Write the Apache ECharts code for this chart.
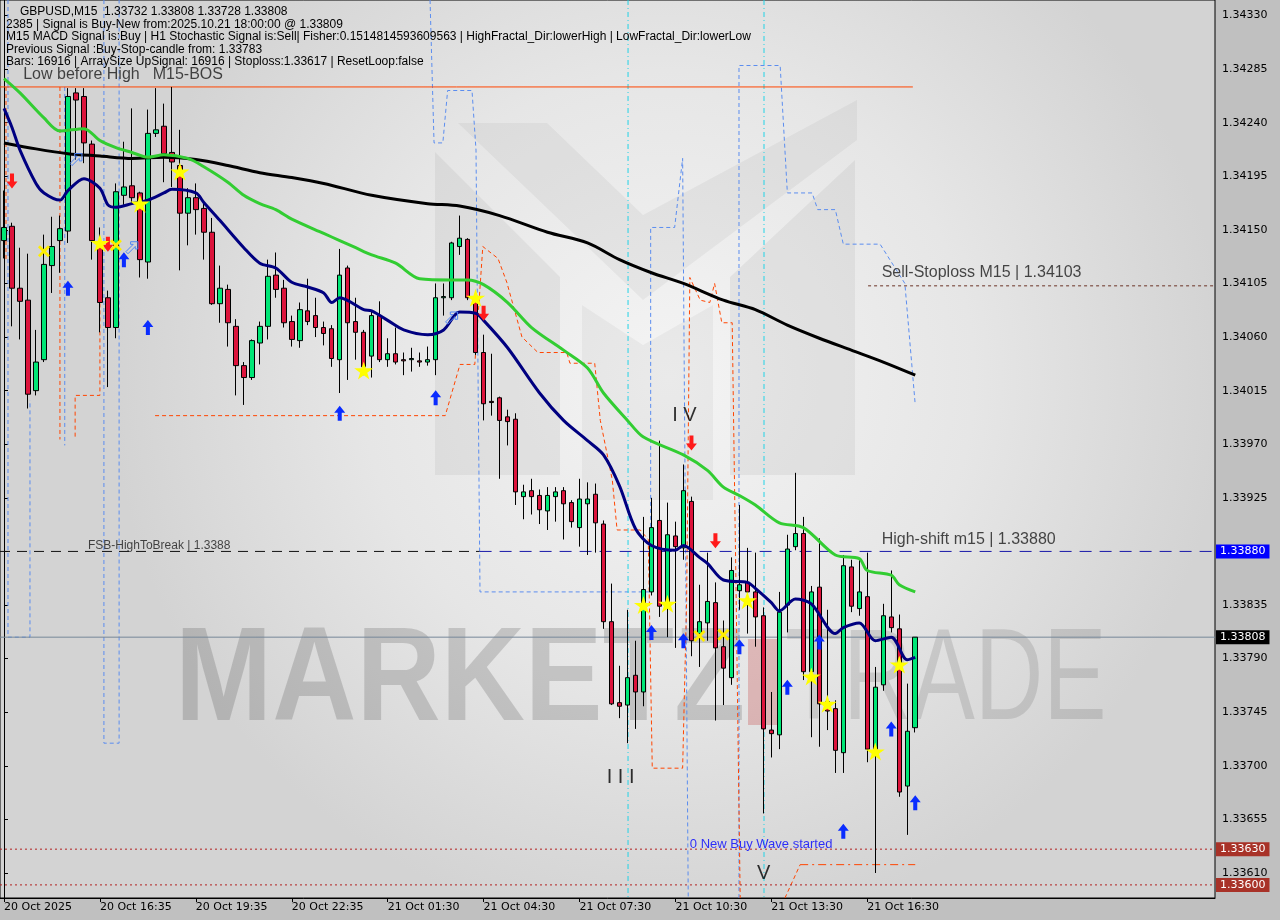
<!DOCTYPE html>
<html>
<head>
<meta charset="utf-8">
<script src="https://cdn.jsdelivr.net/npm/echarts@6/dist/echarts.min.js"></script>
<style>
html,body{margin:0;padding:0;background:#c0c0c0;}
#chart{width:1280px;height:920px;}
</style>
</head>
<body>
<div id="chart"></div>
<script>
// ================= DATA =================
const slotCount = 152;                       // visible bar slots (incl. empty right margin)
const timeTickBars = [0, 12, 24, 36, 48, 60, 72, 84, 96, 108];
const timeTickLabels = ['20 Oct 2025', '20 Oct 16:35', '20 Oct 19:35', '20 Oct 22:35', '21 Oct 01:30',
  '21 Oct 04:30', '21 Oct 07:30', '21 Oct 10:30', '21 Oct 13:30', '21 Oct 16:30'];
const priceTicks = [1.34330, 1.34285, 1.34240, 1.34195, 1.34150, 1.34105, 1.34060, 1.34015, 1.33970,
  1.33925, 1.33880, 1.33835, 1.33790, 1.33745, 1.33700, 1.33655, 1.33610];
const priceMin = 1.33589, priceMax = 1.34343;

// candles: [open, close, low, high]
const candles = [
 [1.34141,1.34152,1.34126,1.34183],[1.34153,1.34101,1.34069,1.34156],[1.34101,1.34090,1.34058,1.34135],
 [1.34091,1.34012,1.34000,1.34130],[1.34015,1.34039,1.34011,1.34066],[1.34041,1.34121,1.34039,1.34146],
 [1.34120,1.34136,1.34097,1.34161],[1.34141,1.34151,1.34114,1.34162],[1.34149,1.34262,1.34139,1.34269],
 [1.34265,1.34259,1.34209,1.34269],[1.34262,1.34223,1.34206,1.34269],[1.34222,1.34141,1.34125,1.34225],
 [1.34140,1.34089,1.34064,1.34152],[1.34093,1.34068,1.34018,1.34099],[1.34068,1.34182,1.34059,1.34189],
 [1.34179,1.34186,1.34171,1.34224],[1.34187,1.34177,1.34171,1.34252],[1.34181,1.34125,1.34110,1.34182],
 [1.34123,1.34231,1.34109,1.34251],[1.34231,1.34234,1.34228,1.34269],[1.34237,1.34214,1.34190,1.34256],
 [1.34215,1.34207,1.34186,1.34270],[1.34204,1.34164,1.34116,1.34234],[1.34164,1.34177,1.34137,1.34185],
 [1.34177,1.34167,1.34146,1.34189],[1.34168,1.34148,1.34125,1.34172],[1.34148,1.34088,1.34087,1.34160],
 [1.34088,1.34101,1.34072,1.34120],[1.34100,1.34072,1.34052,1.34104],[1.34069,1.34036,1.34011,1.34075],
 [1.34036,1.34026,1.34003,1.34039],[1.34026,1.34057,1.34024,1.34058],[1.34055,1.34069,1.34037,1.34073],
 [1.34069,1.34111,1.34058,1.34125],[1.34112,1.34100,1.34093,1.34131],[1.34101,1.34072,1.34068,1.34108],
 [1.34073,1.34058,1.34052,1.34078],[1.34057,1.34083,1.34051,1.34089],[1.34082,1.34073,1.34070,1.34109],
 [1.34078,1.34068,1.34060,1.34093],[1.34068,1.34063,1.34053,1.34073],[1.34067,1.34042,1.34035,1.34070],
 [1.34041,1.34112,1.34013,1.34134],[1.34118,1.34072,1.34024,1.34120],[1.34073,1.34064,1.34041,1.34093],
 [1.34064,1.34035,1.34028,1.34066],[1.34044,1.34078,1.34026,1.34081],[1.34078,1.34041,1.34039,1.34090],
 [1.34041,1.34046,1.34035,1.34059],[1.34046,1.34039,1.34037,1.34068],[1.34041,1.34040,1.34028,1.34047],
 [1.34041,1.34042,1.34031,1.34051],[1.34040,1.34039,1.34035,1.34047],[1.34039,1.34041,1.34036,1.34052],
 [1.34041,1.34093,1.34028,1.34105],[1.34093,1.34094,1.34078,1.34105],[1.34093,1.34139,1.34091,1.34140],
 [1.34136,1.34143,1.34129,1.34162],[1.34142,1.34093,1.34091,1.34143],[1.34093,1.34047,1.34045,1.34093],
 [1.34047,1.34004,1.33990,1.34062],[1.34006,1.34005,1.33994,1.34046],[1.34009,1.33990,1.33941,1.34010],
 [1.33993,1.33989,1.33969,1.33999],[1.33991,1.33930,1.33919,1.33996],[1.33926,1.33930,1.33907,1.33936],
 [1.33931,1.33926,1.33911,1.33941],[1.33927,1.33915,1.33903,1.33932],[1.33914,1.33927,1.33898,1.33934],
 [1.33926,1.33930,1.33905,1.33934],[1.33931,1.33920,1.33890,1.33934],[1.33921,1.33905,1.33900,1.33923],
 [1.33900,1.33924,1.33884,1.33941],[1.33920,1.33924,1.33877,1.33938],[1.33928,1.33904,1.33879,1.33937],
 [1.33903,1.33821,1.33815,1.33906],[1.33821,1.33752,1.33751,1.33853],[1.33753,1.33750,1.33740,1.33784],
 [1.33751,1.33774,1.33719,1.33831],[1.33776,1.33762,1.33731,1.33805],[1.33762,1.33848,1.33750,1.33909],
 [1.33846,1.33900,1.33843,1.33925],[1.33906,1.33834,1.33825,1.33973],[1.33837,1.33894,1.33808,1.33921],
 [1.33893,1.33884,1.33799,1.33905],[1.33883,1.33931,1.33873,1.33953],[1.33922,1.33805,1.33792,1.33926],
 [1.33811,1.33821,1.33783,1.33852],[1.33820,1.33838,1.33805,1.33879],[1.33837,1.33799,1.33738,1.33854],
 [1.33800,1.33782,1.33751,1.33822],[1.33774,1.33864,1.33768,1.33875],[1.33847,1.33852,1.33831,1.33919],
 [1.33854,1.33846,1.33811,1.33883],[1.33846,1.33825,1.33800,1.33879],[1.33826,1.33731,1.33660,1.33833],
 [1.33730,1.33727,1.33707,1.33762],[1.33726,1.33829,1.33714,1.33846],[1.33835,1.33882,1.33812,1.33894],
 [1.33884,1.33895,1.33881,1.33946],[1.33895,1.33779,1.33772,1.33909],[1.33779,1.33846,1.33724,1.33851],
 [1.33850,1.33752,1.33716,1.33891],[1.33754,1.33746,1.33730,1.33831],[1.33748,1.33713,1.33694,1.33755],
 [1.33711,1.33868,1.33694,1.33877],[1.33867,1.33834,1.33829,1.33873],[1.33832,1.33846,1.33826,1.33873],
 [1.33842,1.33714,1.33703,1.33879],[1.33714,1.33766,1.33610,1.33783],[1.33768,1.33826,1.33763,1.33836],
 [1.33825,1.33816,1.33812,1.33864],[1.33815,1.33678,1.33674,1.33827],[1.33683,1.33729,1.33642,1.33769],
 [1.33732,1.33808,1.33728,1.33808]
];

// moving averages: [bar, price]
const maSlow = [[0,1.34223],[4,1.34218],[8,1.34214],[12,1.34212],[16,1.34210],[20,1.34211],[24,1.34209],
 [28,1.34204],[32,1.34198],[36,1.34194],[40,1.34189],[46,1.34179],[53,1.34172],[57,1.34170],[62,1.34162],
 [68,1.34148],[73,1.34139],[77,1.34125],[81,1.34114],[85,1.34105],[90,1.34091],[94,1.34083],[98,1.34070],
 [102,1.34059],[106,1.34049],[110,1.34039],[114,1.34028]];
const maMid = [[0,1.34277],[2,1.34265],[5,1.34244],[7,1.34233],[10,1.34235],[12,1.34225],[14,1.34219],
 [16,1.34215],[18,1.34211],[20,1.34213],[23,1.34210],[25,1.34203],[28,1.34190],[30,1.34179],[32,1.34172],
 [34,1.34167],[36,1.34159],[40,1.34147],[42,1.34141],[44,1.34135],[46,1.34129],[49,1.34122],[52,1.34109],
 [56,1.34108],[58,1.34108],[60,1.34104],[63,1.34089],[66,1.34068],[70,1.34049],[73,1.34034],[75,1.34013],
 [78,1.33990],[80,1.33976],[85,1.33961],[88,1.33948],[90,1.33934],[92,1.33927],[94,1.33919],[97,1.33904],
 [100,1.33900],[104,1.33877],[107,1.33874],[108,1.33864],[111,1.33860],[112,1.33852],[114,1.33846]];
const maFast = [[0,1.34252],[1,1.34236],[2,1.34217],[4,1.34189],[5,1.34181],[7,1.34175],[8,1.34183],
 [10,1.34193],[12,1.34185],[13,1.34171],[14,1.34169],[16,1.34172],[18,1.34175],[20,1.34181],[21,1.34184],
 [24,1.34181],[25,1.34173],[27,1.34158],[30,1.34135],[32,1.34122],[34,1.34118],[36,1.34106],[38,1.34102],
 [40,1.34097],[41,1.34089],[42,1.34093],[45,1.34083],[46,1.34082],[48,1.34074],[50,1.34066],[53,1.34062],
 [55,1.34066],[57,1.34081],[59,1.34080],[60,1.34074],[63,1.34051],[67,1.34013],[70,1.33990],[73,1.33973],
 [75,1.33961],[77,1.33935],[79,1.33899],[81,1.33885],[84,1.33881],[85,1.33885],[87,1.33875],[88,1.33870],
 [90,1.33856],[93,1.33854],[94,1.33849],[96,1.33837],[97,1.33830],[99,1.33840],[101,1.33836],[104,1.33811],
 [105,1.33816],[107,1.33820],[109,1.33805],[111,1.33808],[113,1.33789],[114,1.33791]];

// indicator step lines: [bar, price]
const blueSteps = [
 [[0.5,1.34343],[0.5,1.33808],[3.25,1.33808],[3.25,1.34007]],
 [[7.6,1.34270],[7.6,1.33969]],
 [[12.5,1.34343],[12.5,1.33719],[14.4,1.33719],[14.4,1.34343]],
 [[53.3,1.34343],[53.8,1.34223],[54.9,1.34223],[55.5,1.34267],[58.55,1.34267],[59.05,1.34217],[59.55,1.33846],
  [80.9,1.33846],[80.9,1.34152],[83.9,1.34152],[84.9,1.34210],[85.6,1.33589]],
 [[91.95,1.33589],[91.95,1.34288],[97.1,1.34288],[98.0,1.34181],[101.1,1.34181],[101.8,1.34167],[104.0,1.34167],
  [105.0,1.34138],[109.6,1.34138],[112.7,1.34105],[114.0,1.34003]]
];
const cyanBars = [78.07, 95.08];
const orangeSteps = [
 [[0.25,1.34270],[0.25,1.34125]],
 [[7.0,1.34270],[7.0,1.33974]],
 [[12.0,1.34100],[12.0,1.34011],[8.9,1.34011],[8.9,1.33974]],
 [[18.9,1.33994],[55.2,1.33994],[57.05,1.34037],[58.9,1.34037],[59.9,1.34136],[61.8,1.34126],[62.9,1.34106],
  [64.8,1.34060],[66.8,1.34047],[70.4,1.34047],[70.8,1.34038],[73.9,1.34038],[74.6,1.33990],[76.1,1.33940],
  [76.7,1.33898],[79.6,1.33898],[80.6,1.33890],[81.1,1.33698],[84.9,1.33698],[85.4,1.33839],[85.8,1.34110],
  [87.1,1.34091],[88.3,1.34089],[88.9,1.34105],[89.8,1.34072],[91.1,1.34072],[91.6,1.33839],[92.1,1.33589]],
 [[97.7,1.33589],[99.6,1.33617]]
];
const stoplossSeg = [[99.6,1.33617],[114,1.33617]];
const sellStopSeg = [[108.1,1.34103],[151.5,1.34103]];
const bosSeg = [[-0.5,1.34270],[113.7,1.34270]];
const fsbSeg = [[-0.5,1.33880],[59.5,1.33880]];
const highShiftSeg = [[59.5,1.33880],[151.5,1.33880]];

// levels with price tags
const levelPrices = [1.33880, 1.33808, 1.33630, 1.33600];

// signal markers
const buyArrowBars = [8,15,18,42,54,81,85,92,98,102,105,111,114];
const buyArrowPrices = [1.34101,1.34125,1.34068,1.33996,1.34009,1.33812,1.33805,1.33800,1.33766,1.33804,1.33645,1.33731,1.33669];
const sellArrowBars = [1,13,60,86,89];
const sellArrowPrices = [1.34191,1.34138,1.34080,1.33971,1.33889];
const starBars = [12,17,22,45,59,80,83,93,101,103,109,112];
const starPrices = [1.34139,1.34172,1.34199,1.34032,1.34093,1.33835,1.33836,1.33839,1.33775,1.33752,1.33712,1.33785];
const crossBars = [5,14,87,90];
const crossPrices = [1.34132,1.34137,1.33809,1.33810];
const hollowBars = [9,16,56];
const hollowPrices = [1.34209,1.34135,1.34076];

// text annotations
const noteTexts = ['Low before High','M15-BOS','Sell-Stoploss M15 | 1.34103','High-shift m15 | 1.33880',
  'FSB-HighToBreak | 1.3388','0 New Buy Wave started','I V','I I I','V'];
const noteBars = [2.4,18.6,109.8,109.8,10.5,85.8,83.6,75.4,94.2];
const notePrices = [1.34280,1.34280,1.34114,1.33890,1.33885,1.33634,1.33994,1.33690,1.33610];

const headerLines = [
 'GBPUSD,M15  1.33732 1.33808 1.33728 1.33808',
 '2385 | Signal is Buy-New from:2025.10.21 18:00:00 @ 1.33809',
 'M15 MACD Signal is:Buy | H1 Stochastic Signal is:Sell| Fisher:0.1514814593609563 | HighFractal_Dir:lowerHigh | LowFractal_Dir:lowerLow',
 'Previous Signal :Buy-Stop-candle from: 1.33783',
 'Bars: 16916 | ArraySize UpSignal: 16916 | Stoploss:1.33617 | ResetLoop:false'
];

// ================= CHART =================
const tickSet = new Set(timeTickBars);
const categories = [];
for (let i = 0; i < slotCount; i++) {
  const k = timeTickBars.indexOf(i);
  categories.push(k >= 0 ? timeTickLabels[k] : String(i));
}
const zip = (a, b) => a.map((v, i) => [v, b[i]]);

const ARROW_UP = 'path://M6,0 L12,7 L8.2,7 L8.2,15 L3.8,15 L3.8,7 L0,7 Z';
const ARROW_DN = 'path://M3.8,0 L8.2,0 L8.2,8 L12,8 L6,15 L0,8 L3.8,8 Z';
const STAR = 'path://M50,0 L61,35 L98,35 L68,57 L79,91 L50,70 L21,91 L32,57 L2,35 L39,35 Z';
const CROSS = 'path://M0,2 L2,0 L6,4 L10,0 L12,2 L8,6 L12,10 L10,12 L6,8 L2,12 L0,10 L4,6 Z';
const HOLLOW = 'path://M0,10 L7,3 L4.5,3 L4.5,0.5 L11.5,0.5 L11.5,7.5 L9,7.5 L9,5 L2,12 Z';

const series = [];
// background indicator lines
blueSteps.forEach(seg => series.push({type:'line', xAxisIndex:1, data:seg, symbol:'none', silent:true, z:1,
  lineStyle:{color:'#5b8def', width:1, type:[4,3]}}));
cyanBars.forEach(b => series.push({type:'line', xAxisIndex:1, data:[[b,priceMax],[b,priceMin]], symbol:'none', z:1,
  lineStyle:{color:'#22d3e6', width:1, type:[5,3,1,3]}}));
orangeSteps.forEach(seg => series.push({type:'line', xAxisIndex:1, data:seg, symbol:'none', z:1,
  lineStyle:{color:'#ff4500', width:1, type:[4,3]}}));
series.push({type:'line', xAxisIndex:1, data:stoplossSeg, symbol:'none', z:1, lineStyle:{color:'#ff4500', width:1, type:[8,4,2,4]}});
series.push({type:'line', xAxisIndex:1, data:sellStopSeg, symbol:'none', z:1, lineStyle:{color:'#6b3326', width:1, type:[3,3]}});
series.push({type:'line', xAxisIndex:1, data:bosSeg, symbol:'none', z:1, lineStyle:{color:'#ff4500', width:1}});
series.push({type:'line', xAxisIndex:1, data:fsbSeg, symbol:'none', z:1, lineStyle:{color:'#111', width:1, type:[10,7]}});
series.push({type:'line', xAxisIndex:1, data:highShiftSeg, symbol:'none', z:1, lineStyle:{color:'#1818a8', width:1, type:[12,8]}});

// horizontal levels with price tags (own carrier series on the value x axis)
const tagStyle = (bg, txt) => ({show:true, position:'end', distance:1, color:'#fff', backgroundColor:bg,
  padding:[2,4,1,4], fontSize:11, fontFamily:'DejaVu Sans', formatter:txt});
const levelColors = ['rgba(0,0,0,0)', '#778899', '#b22222', '#b22222'];
const levelTypes = ['solid', 'solid', [2,3], [2,3]];
const tagColors = ['#0000ff', '#000000', '#a83228', '#a83228'];
levelPrices.forEach((p, k) => series.push({
  type:'line', xAxisIndex:1, symbol:'none', z:2, silent:true,
  data:[[-0.5, p], [151.5, p]],
  lineStyle:{color:levelColors[k], width:1, type:levelTypes[k]},
  endLabel:tagStyle(tagColors[k], p.toFixed(5))
}));

// candles
series.push({
  type:'candlestick', xAxisIndex:0, yAxisIndex:0, data:candles, barWidth:5, z:5,
  itemStyle:{color:'#00e676', color0:'#dc143c', borderColor:'#000', borderColor0:'#000', borderWidth:1}
});
// moving averages
series.push({type:'line', xAxisIndex:1, data:maSlow, symbol:'none', smooth:0.3, z:6, lineStyle:{color:'#000000', width:3}});
series.push({type:'line', xAxisIndex:1, data:maMid, symbol:'none', smooth:0.3, z:6, lineStyle:{color:'#32cd32', width:3}});
series.push({type:'line', xAxisIndex:1, data:maFast, symbol:'none', smooth:0.3, z:6, lineStyle:{color:'#000080', width:3}});
// markers
series.push({type:'scatter', xAxisIndex:1, data:zip(buyArrowBars, buyArrowPrices), symbol:ARROW_UP, symbolSize:[11,15], z:8,
  itemStyle:{color:'#0a2cff', opacity:1}});
series.push({type:'scatter', xAxisIndex:1, data:zip(sellArrowBars, sellArrowPrices), symbol:ARROW_DN, symbolSize:[11,15], z:8,
  itemStyle:{color:'#ff1a1a', opacity:1}});
series.push({type:'scatter', xAxisIndex:1, data:zip(starBars, starPrices), symbol:STAR, symbolSize:[19,18], z:8,
  itemStyle:{color:'#ffff00', opacity:1}});
series.push({type:'scatter', xAxisIndex:1, data:zip(crossBars, crossPrices), symbol:CROSS, symbolSize:12, z:8,
  itemStyle:{color:'#ffee00', opacity:1}});
series.push({type:'scatter', xAxisIndex:1, data:zip(hollowBars, hollowPrices), symbol:HOLLOW, symbolSize:12, z:8,
  itemStyle:{color:'rgba(0,0,0,0)', borderColor:'#4f86f7', borderWidth:1, opacity:1}});
// notes
const noteStyles = [
  {fontSize:16, color:'#1a1a1a'},{fontSize:16, color:'#1a1a1a'},{fontSize:16, color:'#1a1a1a'},{fontSize:16, color:'#1a1a1a'},
  {fontSize:12, color:'#1a1a1a'},{fontSize:13, color:'#0000ff'},{fontSize:20, color:'#000'},{fontSize:20, color:'#000'},{fontSize:20, color:'#000'}
];
series.push({type:'scatter', xAxisIndex:1, symbolSize:0, z:9, silent:true,
  data: noteTexts.map((t, k) => ({value:[noteBars[k], notePrices[k]],
    label:{show:true, position:'right', distance:0, formatter:t, fontFamily:'Liberation Sans',
      fontSize:noteStyles[k].fontSize, color:noteStyles[k].color}}))
});

// watermark + header graphics (decoration only)
const graphic = [
  {type:'rect', shape:{x:0, y:0, width:1215, height:898}, z:-20, silent:true,
    style:{fill:new echarts.graphic.RadialGradient(0.55, 0.42, 0.62, [
      {offset:0, color:'#f4f4f4'}, {offset:0.55, color:'#e6e6e6'}, {offset:1, color:'#d3d3d3'}])}},
  {type:'polygon', shape:{points:[[435,152],[560,277],[560,475],[435,475]]}, z:-15, silent:true, style:{fill:'rgba(0,0,0,0.05)'}},
  {type:'polygon', shape:{points:[[730,277],[855,160],[855,475],[730,475]]}, z:-15, silent:true, style:{fill:'rgba(0,0,0,0.05)'}},
  {type:'polygon', shape:{points:[[458,123],[547,123],[643,215],[857,100],[857,140],[643,300]]}, z:-15, silent:true, style:{fill:'rgba(0,0,0,0.045)'}},
  {type:'polygon', shape:{points:[[582,305],[643,345],[713,305],[713,500],[582,500]]}, z:-15, silent:true, style:{fill:'rgba(0,0,0,0.04)'}},
  {type:'text', x:175, y:683, scaleX:0.877, z:-14, silent:true,
    style:{text:'MARKETZ', font:'bold 133px "Liberation Sans"', fill:'rgba(0,0,0,0.15)', verticalAlign:'middle', align:'left'}},
  {type:'rect', shape:{x:748, y:639, width:30, height:86}, z:-14, silent:true, style:{fill:'rgba(190,40,40,0.25)'}},
  {type:'text', x:785, y:683, scaleX:0.73, z:-14, silent:true,
    style:{text:'TRADE', font:'130px "Liberation Sans"', fill:'rgba(0,0,0,0.11)', verticalAlign:'middle', align:'left'}}
];
const headerY = [12, 24.5, 37, 49.5, 62];
headerLines.forEach((t, k) => graphic.push({type:'text', x: k === 0 ? 20 : 6, y: headerY[k], z:50, silent:true,
  style:{text:t, font:'12px "Liberation Sans"', fill:'#000', verticalAlign:'middle', align:'left'}}));

const option = {
  animation:false,
  backgroundColor:'#c0c0c0',
  grid:{left:0, right:65, top:0, bottom:22, show:true, borderColor:'#000', borderWidth:1, backgroundColor:'transparent'},
  xAxis:[
    {type:'category', data:categories, boundaryGap:true,
      axisLine:{show:true, lineStyle:{color:'#000'}},
      axisTick:{show:true, alignWithLabel:true, interval:(i) => tickSet.has(i), length:4, lineStyle:{color:'#000'}},
      axisLabel:{interval:(i) => tickSet.has(i), align:'left', margin:4, color:'#000', fontSize:11, fontFamily:'DejaVu Sans',
        formatter:(v, i) => tickSet.has(i) ? v : ''},
      splitLine:{show:false}},
    {type:'value', min:-0.5, max:151.5, show:false}
  ],
  yAxis:[{type:'value', position:'right', min:priceMin, max:priceMax, scale:true,
    axisLine:{show:true, lineStyle:{color:'#000'}},
    axisTick:{show:true, length:4, customValues:priceTicks, lineStyle:{color:'#000'}},
    axisLabel:{customValues:priceTicks, formatter:(v) => v.toFixed(5), margin:7, color:'#000', fontSize:11, fontFamily:'DejaVu Sans'},
    splitLine:{show:false}}],
  graphic: graphic,
  series: series
};
const chart = echarts.init(document.getElementById('chart'), null, {renderer:'canvas'});
chart.setOption(option);
</script>
</body>
</html>
